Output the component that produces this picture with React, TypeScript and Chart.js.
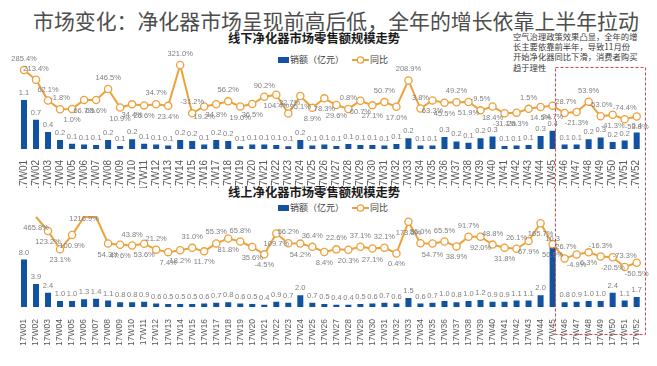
import React, { useEffect, useRef } from 'react';
import { Chart, registerables } from 'chart.js';

Chart.register(...registerables);

const weeks = [
  '17W01','17W02','17W03','17W04','17W05','17W06','17W07','17W08','17W09','17W10',
  '17W11','17W12','17W13','17W14','17W15','17W16','17W17','17W18','17W19','17W20',
  '17W21','17W22','17W23','17W24','17W25','17W26','17W27','17W28','17W29','17W30',
  '17W31','17W32','17W33','17W34','17W35','17W36','17W37','17W38','17W39','17W40',
  '17W41','17W42','17W43','17W44','17W45','17W46','17W47','17W48','17W49','17W50',
  '17W51','17W52',
];

// 线下 销额（亿元）
const offlineSales = [
  1.10,0.66,0.38,0.20,0.12,0.10,0.09,0.20,0.07,0.22,
  0.12,0.10,0.08,0.20,0.18,0.10,0.20,0.18,0.06,0.10,
  0.10,0.09,0.06,0.20,0.08,0.10,0.07,0.11,0.09,0.09,
  0.08,0.11,0.24,0.08,0.08,0.27,0.17,0.14,0.24,0.28,
  0.07,0.08,0.09,0.29,0.41,0.10,0.10,0.22,0.26,0.16,
  0.19,0.37,
];
// 线下 同比（%）
const offlineYoY: (number | null)[] = [
  285.4,213.4,62.1,-1.8,1.0,66.7,65.6,146.5,10.9,34.4,
  26.6,34.7,23.4,321.0,-31.2,19.2,34.8,56.2,19.0,36.5,
  90.2,104.4,-32.7,95.1,8.9,78.3,29.6,0.8,60.7,27.1,
  50.7,17.0,208.9,3.8,63.3,45.5,49.2,51.9,-9.5,18.4,
  -31.1,-26.3,1.5,14.5,24.7,-28.7,-21.3,53.9,-53.0,-41.3,
  -74.4,-53.8,
];
// 线上 销额（亿元）
const onlineSales = [
  8.0,3.9,2.4,1.0,1.0,1.3,1.4,1.1,0.8,0.8,
  0.9,0.6,0.5,0.5,0.5,0.6,0.7,0.8,0.6,0.5,
  0.4,0.9,0.7,2.0,0.7,0.5,0.4,0.4,0.5,0.6,
  0.7,0.6,1.5,0.6,0.7,1.0,0.8,1.0,1.2,0.9,
  0.9,1.1,1.1,2.0,10.3,0.8,0.9,1.0,1.0,2.4,
  1.1,1.7,
];
// 线上 同比（%）
const onlineYoY: (number | null)[] = [
  null,465.8,123.2,23.1,100.9,1216.9,248.0,54.3,47.6,43.8,
  53.6,21.2,7.4,18.2,31.0,11.7,55.3,81.8,65.8,35.6,
  -4.5,109.7,56.2,54.2,36.4,8.4,22.6,20.3,37.1,27.1,
  32.1,0.4,173.6,56.0,54.7,65.5,38.9,91.7,92.0,48.8,
  31.8,26.1,67.9,165.7,50.9,-26.7,-4.9,6.3,-16.3,-20.5,
  -73.3,-50.5,
];

// label placement (style): a = above, b = below, c = centre, n = hidden
const offlinePos = 'aaaabbbabb' + 'babaabbabb' + 'ababbbbabb' + 'abaabbabab' + 'bbabbabaab' + 'ab';
const onlinePos = 'bbbbbcnbba' + 'babbababab' + 'bbabababab' + 'abbabababa' + 'babbbabbab' + 'ab';

const BLUE = '#1152A2';
const ORANGE = '#EDA13B';
const NUM_FONT = '"Liberation Sans", Arial, sans-serif';
const CJK_FONT = '"Noto Sans CJK SC", "Noto Sans", sans-serif';

interface PanelProps {
  top: number;
  height: number;
  sales: number[];
  yoy: (number | null)[];
  pos: string;
  salesMax: number;
  yoyMin: number;
  yoyMax: number;
  padTop: number;
  axisH: number;
  tickSize: number;
  tickPad: number;
}

function Panel(p: PanelProps) {
  const ref = useRef<HTMLCanvasElement>(null);
  useEffect(() => {
    if (!ref.current) return;
    const plotted = p.yoy.map((v) => (v == null ? null : Math.min(v, p.yoyMax)));
    const labelPlugin = {
      id: 'valueLabels',
      afterDatasetsDraw(chart: any) {
        const ctx = chart.ctx as CanvasRenderingContext2D;
        ctx.save();
        ctx.font = `7.5px ${NUM_FONT}`;
        ctx.fillStyle = '#7f7f7f';
        ctx.textAlign = 'center';
        ctx.textBaseline = 'middle';
        const barMeta = chart.getDatasetMeta(1);
        barMeta.data.forEach((el: any, i: number) => {
          const v = p.sales[i];
          ctx.fillText(v.toFixed(1), el.x, el.y - 7);
        });
        const lineMeta = chart.getDatasetMeta(0);
        lineMeta.data.forEach((el: any, i: number) => {
          const v = p.yoy[i];
          if (v == null) return;
          const ps = p.pos[i];
          if (ps === 'n') return;
          const dy = ps === 'a' ? -11 : ps === 'b' ? 11 : 2;
          ctx.fillText(v.toFixed(1) + '%', el.x, el.y + dy);
        });
        ctx.restore();
      },
    };
    const chart = new Chart(ref.current, {
      type: 'bar',
      data: {
        labels: weeks,
        datasets: [
          {
            type: 'line',
            label: '同比',
            data: plotted as any,
            yAxisID: 'y1',
            order: 1,
            borderColor: ORANGE,
            borderWidth: 2,
            backgroundColor: '#ffffff',
            pointBackgroundColor: '#ffffff',
            pointBorderColor: ORANGE,
            pointBorderWidth: 1.3,
            pointRadius: (c: any) => {
              const v = p.yoy[c.dataIndex];
              return v == null || v > p.yoyMax ? 0 : 3.6;
            },
            tension: 0,
            spanGaps: false,
            clip: false as any,
          } as any,
          {
            type: 'bar',
            label: '销额（亿元）',
            data: p.sales,
            yAxisID: 'y',
            order: 2,
            backgroundColor: BLUE,
            barPercentage: 0.5,
            categoryPercentage: 1,
          } as any,
        ],
      },
      options: {
        responsive: false,
        animation: false,
        events: [],
        layout: { padding: { left: 18, right: 14.3, top: p.padTop, bottom: 0 } },
        plugins: {
          legend: { display: false },
          tooltip: { enabled: false },
          title: { display: false },
        },
        scales: {
          x: {
            offset: true,
            grid: { display: false },
            border: { display: false },
            ticks: {
              autoSkip: false,
              minRotation: 90,
              maxRotation: 90,
              padding: p.tickPad,
              color: '#595959',
              font: { size: p.tickSize, family: NUM_FONT },
            },
            afterFit: (s: any) => {
              s.height = p.axisH;
            },
          },
          y: { display: false, min: 0, max: p.salesMax },
          y1: { display: false, min: p.yoyMin, max: p.yoyMax },
        },
      } as any,
      plugins: [labelPlugin],
    });
    return () => chart.destroy();
  }, []);
  return (
    <canvas
      ref={ref}
      width={657}
      height={p.height}
      style={{ position: 'absolute', left: 0, top: p.top, width: 657, height: p.height }}
    />
  );
}

function Legend({ top }: { top: number }) {
  return (
    <div
      style={{
        position: 'absolute',
        left: 278,
        top,
        height: 12,
        display: 'flex',
        alignItems: 'center',
        fontFamily: CJK_FONT,
        fontSize: 9,
        color: '#404040',
        whiteSpace: 'nowrap',
        lineHeight: '12px',
      }}
    >
      <span style={{ display: 'inline-block', width: 11, height: 6, background: BLUE }} />
      <span style={{ marginLeft: 1 }}>销额（亿元）</span>
      <svg width={17} height={10} style={{ marginLeft: 8 }}>
        <line x1={0} y1={5} x2={17} y2={5} stroke={ORANGE} strokeWidth={2} />
        <circle cx={8.5} cy={5} r={3.2} fill="#fff" stroke={ORANGE} strokeWidth={1.3} />
      </svg>
      <span style={{ marginLeft: 1 }}>同比</span>
    </div>
  );
}

export default function App() {
  return (
    <div style={{ position: 'absolute', left: 0, top: 0, width: 657, height: 366, background: '#fff', overflow: 'hidden' }}>
      <div
        style={{
          position: 'absolute',
          left: 33,
          top: 8,
          fontFamily: CJK_FONT,
          fontSize: 20.9,
          lineHeight: '25px',
          color: '#4d4d4d',
          whiteSpace: 'nowrap',
        }}
      >
        市场变化：净化器市场呈现前高后低，全年的增长依靠上半年拉动
      </div>
      <div
        style={{
          position: 'absolute',
          left: 228,
          top: 30,
          fontFamily: CJK_FONT,
          fontSize: 12.3,
          fontWeight: 700,
          lineHeight: '16px',
          color: '#1a1a1a',
          whiteSpace: 'nowrap',
        }}
      >
        线下净化器市场零售额规模走势
      </div>
      <Legend top={54} />
      <div
        style={{
          position: 'absolute',
          left: 228,
          top: 184,
          fontFamily: CJK_FONT,
          fontSize: 12.3,
          fontWeight: 700,
          lineHeight: '16px',
          color: '#1a1a1a',
          whiteSpace: 'nowrap',
        }}
      >
        线上净化器市场零售额规模走势
      </div>
      <Legend top={202} />
      <div
        style={{
          position: 'absolute',
          left: 513,
          top: 31,
          fontFamily: CJK_FONT,
          fontSize: 8.3,
          lineHeight: '10.2px',
          color: '#3a3a3a',
          whiteSpace: 'nowrap',
        }}
      >
        空气治理政策效果凸显，全年的增
        <br />
        长主要依靠前半年，导致11月份
        <br />
        开始净化器同比下滑，消费者购买
        <br />
        趋于理性
      </div>
      <Panel
        top={28}
        height={160}
        sales={offlineSales}
        yoy={offlineYoY}
        pos={offlinePos}
        salesMax={2.045}
        yoyMin={-291.5}
        yoyMax={372.6}
        padTop={30}
        axisH={39}
        tickSize={10}
        tickPad={3}
      />
      <Panel
        top={188}
        height={157}
        sales={onlineSales}
        yoy={onlineYoY}
        pos={onlinePos}
        salesMax={15.18}
        yoyMin={-292.3}
        yoyMax={199.5}
        padTop={29}
        axisH={38}
        tickSize={8.5}
        tickPad={4}
      />
      <svg width={657} height={366} style={{ position: 'absolute', left: 0, top: 0, pointerEvents: 'none' }}>
        <rect x={555.5} y={67.5} width={90} height={267} fill="none" stroke="#E0404C" strokeWidth={1} strokeDasharray="3,2" />
      </svg>
    </div>
  );
}
